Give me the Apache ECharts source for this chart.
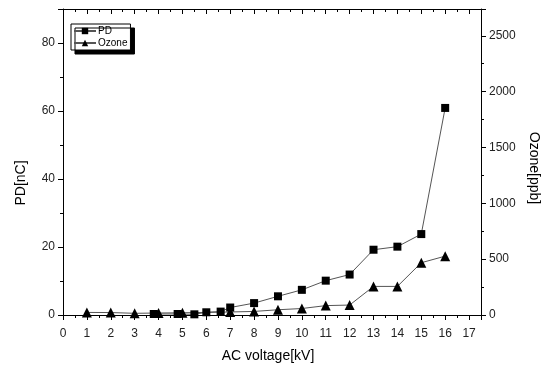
<!DOCTYPE html>
<html>
<head>
<meta charset="utf-8">
<script src="https://cdn.jsdelivr.net/npm/echarts@6/dist/echarts.min.js"></script>
<style>
html,body{margin:0;padding:0;background:#fff;}
#chart{width:549px;height:368px;}
</style>
</head>
<body>
<div id="chart"></div>
<script>
// ---- data ----
var pdVoltage = [3.8, 4.8, 5.5, 6, 6.6, 7, 8, 9, 10, 11, 12, 13, 14, 15, 16];
var pdValues = [0.3, 0.3, 0.2, 0.8, 1.0, 2.2, 3.5, 5.5, 7.4, 10.1, 11.9, 19.2, 20.1, 23.8, 60.9];
var ozoneVoltage = [1, 2, 3, 4, 5, 7, 8, 9, 10, 11, 12, 13, 14, 15, 16];
var ozoneValues = [23, 22, 15, 18, 20, 27, 32, 47, 58, 84, 89, 256, 256, 468, 527];
var seriesNames = ['PD', 'Ozone'];
var xAxisTitle = 'AC voltage[kV]';
var leftAxisTitle = 'PD[nC]';
var rightAxisTitle = 'Ozone[ppb]';

function pairs(xs, ys) { return xs.map(function (x, i) { return [x, ys[i]]; }); }

var FONT = 'Liberation Sans, Arial, sans-serif';
var chart = echarts.init(document.getElementById('chart'), null, {renderer: 'canvas'});
var axisCommon = {
  axisLine: {show: true, onZero: false, lineStyle: {color: '#000', width: 1}},
  axisTick: {show: true, inside: false, length: 5, lineStyle: {color: '#000'}},
  minorTick: {show: true, splitNumber: 2, length: 3, lineStyle: {color: '#000'}},
  splitLine: {show: false},
  axisLabel: {color: '#222', fontSize: 12, fontFamily: FONT, showMaxLabel: false,
    formatter: function (v) { return String(v); }}
};
chart.setOption({
  animation: false,
  backgroundColor: '#fff',
  grid: {left: 63, right: 68, top: 9, bottom: 52, containLabel: false},
  legend: {
    orient: 'vertical', left: 71, top: 24,
    padding: [2, 3, 2, 2], itemGap: 2, itemWidth: 22, itemHeight: 8,
    backgroundColor: '#fff', borderColor: '#000', borderWidth: 1,
    shadowColor: '#000', shadowOffsetX: 4, shadowOffsetY: 4, shadowBlur: 0,
    textStyle: {fontSize: 10, fontFamily: FONT, color: '#000', lineHeight: 10, padding: [0, 0, 0, -3]},
    data: seriesNames
  },
  xAxis: [
    Object.assign({}, axisCommon, {
      type: 'value', min: 0, max: 17.5, interval: 1, position: 'bottom',
      axisLabel: Object.assign({}, axisCommon.axisLabel, {margin: 13}),
      name: xAxisTitle, nameLocation: 'middle', nameGap: 34,
      nameTextStyle: {fontSize: 14, fontFamily: FONT, color: '#000', padding: [0, 8, 0, 0]}
    }),
    Object.assign({}, axisCommon, {
      type: 'value', min: 0, max: 17.5, interval: 1, position: 'top',
      axisTick: {show: true, inside: true, length: 5, lineStyle: {color: '#000'}},
      minorTick: {show: true, splitNumber: 2, length: 3, lineStyle: {color: '#000'}},
      axisLabel: {show: false}
    })
  ],
  yAxis: [
    Object.assign({}, axisCommon, {
      type: 'value', min: 0, max: 90, interval: 20, position: 'left',
      name: leftAxisTitle, nameLocation: 'middle', nameGap: 35, nameRotate: 90,
      nameTextStyle: {fontSize: 14, fontFamily: FONT, color: '#000', padding: [0, 42, 0, 0]}
    }),
    Object.assign({}, axisCommon, {
      type: 'value', min: 0, max: 2740, interval: 500, position: 'right',
      name: rightAxisTitle, nameLocation: 'middle', nameGap: 44, nameRotate: -90,
      nameTextStyle: {fontSize: 14, fontFamily: FONT, color: '#000', padding: [0, 0, 0, 12]}
    })
  ],
  series: [
    {
      name: seriesNames[0], type: 'line', xAxisIndex: 0, yAxisIndex: 0,
      data: pairs(pdVoltage, pdValues),
      symbol: 'rect', symbolSize: 8,
      itemStyle: {color: '#000'},
      lineStyle: {color: '#555', width: 1}
    },
    {
      name: seriesNames[1], type: 'line', xAxisIndex: 0, yAxisIndex: 1,
      data: pairs(ozoneVoltage, ozoneValues),
      symbol: 'triangle', symbolSize: 10,
      itemStyle: {color: '#000'},
      lineStyle: {color: '#555', width: 1}
    }
  ]
});
</script>
</body>
</html>
